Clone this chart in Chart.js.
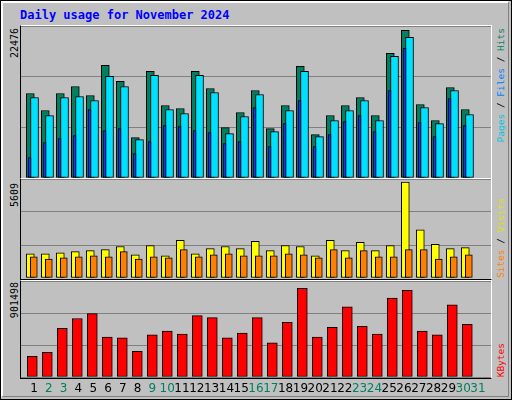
<!DOCTYPE html>
<html><head><meta charset="utf-8">
<script src="https://cdn.jsdelivr.net/npm/chart.js@4"></script>
<style>
html,body{margin:0;padding:0;background:#fff}
#wrap{position:relative;width:510px;height:398px;border:1px solid #000;background:#c0c0c0;overflow:hidden}
#bevel{position:absolute;left:0;top:0;width:505px;height:393px;border-left:2px solid #fff;border-top:2px solid #fff;border-right:1px solid #808080;border-bottom:1px solid #808080}
.frame{position:absolute;left:19px;width:470px;border-left:1px solid #000;border-top:1px solid #fff;border-right:1px solid #fff;border-bottom:1px solid #000}
canvas{position:absolute}
.v{position:absolute;writing-mode:vertical-rl;transform:rotate(180deg);font-family:"DejaVu Sans Mono",monospace;white-space:nowrap}
#title{position:absolute;left:19px;top:7px;font:bold 12px "DejaVu Sans Mono",monospace;color:#0000ff}
</style></head><body>
<div id="wrap">
<div id="bevel"></div>
<div id="title">Daily usage for November 2024</div>
<div class="frame" style="top:24px;height:152px"></div>
<div class="frame" style="top:177px;height:100px"></div>
<div class="frame" style="top:279px;height:97px"></div>
<canvas id="c1" style="left:20px;top:25px"></canvas>
<canvas id="c2" style="left:20px;top:178px"></canvas>
<canvas id="c3" style="left:20px;top:280px"></canvas>
<div class="v" style="left:8px;top:27px;font-size:10px;color:#000">22476</div>
<div class="v" style="left:8px;top:182px;font-size:10px;color:#000">5609</div>
<div class="v" style="left:8px;top:281px;font-size:10px;color:#000">901498</div>
<div class="v" style="left:494px;top:27px;font-size:9.5px"><span style="color:#00c0e0">Pages</span><span style="color:#000"> / </span><span style="color:#0080ff">Files</span><span style="color:#000"> / </span><span style="color:#008060">Hits</span></div>
<div class="v" style="left:494px;bottom:121px;font-size:9.5px"><span style="color:#ff8000">Sites</span><span style="color:#000"> / </span><span style="color:#e0e000">Visits</span></div>
<div class="v" style="left:494px;bottom:22px;font-size:9.5px;color:#ff0000">KBytes</div>
</div>
<script>
const days=[1,2,3,4,5,6,7,8,9,10,11,12,13,14,15,16,17,18,19,20,21,22,23,24,25,26,27,28,29,30];
const dayLabels=['1','2','3','4','5','6','7','8','9','10','11','12','13','14','15','16','17','18','19','20','21','22','23','24','25','26','27','28','29','30','31'];
const weekendDays=[2,3,9,10,16,17,23,24,30,31];
const hits=[12498,9979,12498,13536,12202,16648,14277,5977,15759,10720,10275,15759,13239,7459,9682,12943,7311,10720,16500,6422,9238,10720,11905,9238,18426,21835,10868,8497,13387,10127];
const files=[11905,9238,11905,12054,11461,15018,13536,5681,15166,10127,9534,15166,12646,6570,9090,12350,6867,9979,15759,6126,8497,9979,11461,8497,17982,20797,10423,8052,12943,9386];
const pages=[3013,5236,5829,6274,10127,7015,7311,3606,5385,7756,7608,7015,6718,5088,5385,10423,4644,8052,11461,4644,6422,8349,9238,6867,12943,19167,8200,6126,11757,7756];
const visits=[1372,1372,1431,1490,1549,1608,1784,1313,1843,1255,2137,1372,1667,1784,1667,2078,1549,1843,1784,1255,2137,1549,2020,1549,1843,5431,2725,1902,1667,1725];
const sites=[1196,1078,1137,1196,1255,1196,1490,1078,1196,1137,1608,1196,1313,1372,1255,1255,1255,1372,1313,1137,1608,1137,1549,1196,1196,1608,1608,1078,1196,1313];
const kbytes=[194000,231000,458000,549000,595000,376000,367000,240000,395000,431000,404000,577000,558000,367000,413000,558000,322000,513000,832000,376000,467000,659000,476000,404000,741000,813000,431000,395000,677000,495000];
const maxHits=22476, maxVisits=5609, maxKB=901498;

const pts=a=>a.map((v,i)=>({x:days[i],y:v}));
const hx=(min)=>({type:'linear',display:false,offset:false,min:min,max:min+470/15});
function yax(max){return {min:0,max:max,display:true,afterFit:s=>{s.width=0},
  ticks:{display:false,stepSize:max/3,count:4},border:{display:false},
  grid:{color:'#808080',lineWidth:1,drawTicks:false}};}
function ds(data,color,axis,th,order){return {data:pts(data),backgroundColor:color,borderColor:'#000',borderWidth:1,
  xAxisID:axis,barThickness:th,grouped:false,borderSkipped:false,order:order};}
const base={responsive:false,animation:false,devicePixelRatio:1,layout:{padding:0},
  plugins:{legend:{display:false},tooltip:{enabled:false}}};
function mk(id,w,h,datasets,scales){
  const c=document.getElementById(id);c.width=w;c.height=h;c.style.width=w+'px';c.style.height=h+'px';
  new Chart(c,{type:'bar',data:{datasets},options:Object.assign({},base,{scales})});
}
mk('c1',470,152,[ds(hits,'#008060','xh',8,3),ds(files,'#00e0ff','xf',8,2),ds(pages,'#0040ff','xp',3,1)],
  {xh:hx(0.38),xf:hx(0.10),xp:hx(0.43),y:yax(maxHits)});
mk('c2',470,99,[ds(visits,'#ffff00','xv',8,2),ds(sites,'#ff8000','xs',7,1)],
  {xv:hx(0.38),xs:hx(0.147),y:yax(maxVisits)});
mk('c3',470,116,[ds(kbytes,'#ff0000','xk',10,1)],
  {xk:hx(0.247),
   xl:{type:'linear',position:'bottom',offset:false,min:0.12,max:31.88,display:true,
     afterBuildTicks:s=>{s.ticks=dayLabels.map((l,i)=>({value:i+1}))},
     afterFit:s=>{s.height=20},
     ticks:{autoSkip:false,maxRotation:0,padding:5,font:{family:'DejaVu Sans',size:12},
       callback:(v,i)=>dayLabels[i],
       color:c=>weekendDays.includes(c.tick.value)?'#008060':'#000'},
     grid:{display:false,drawTicks:false},border:{display:false}},
   y:yax(maxKB)});
</script>
</body></html>
